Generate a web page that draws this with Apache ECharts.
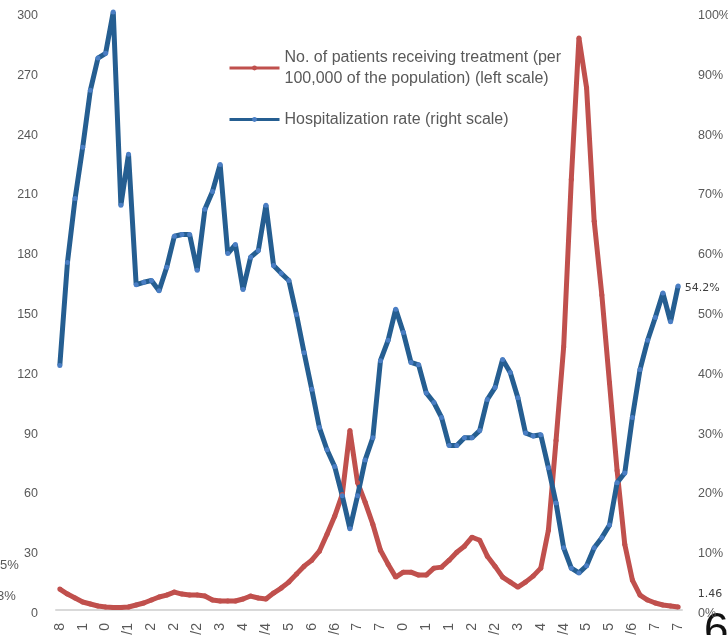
<!DOCTYPE html>
<html>
<head>
<meta charset="utf-8">
<script src="https://cdn.jsdelivr.net/npm/echarts@6/dist/echarts.min.js"></script>
<style>
  html, body { margin: 0; padding: 0; background: #fff; }
  #chart { width: 728px; height: 635px; }
</style>
</head>
<body>
<div id="chart"></div>
<script>
// visible tail of every third x label (the rest is cut off at the bottom)
const tickLabels = ['8', '1', '0', '/1', '2', '2', '/2', '3', '4', '/4', '5', '6', '/6', '7',
  '7', '0', '1', '1', '2', '/2', '3', '4', '/4', '5', '5', '/6', '7', '7']

// patients receiving treatment per 100,000 (left scale)
const patients = [10.5, 8, 6, 4, 3, 2, 1.5, 1.2, 1.2, 1.5,
  2.5, 3.5, 5, 6.5, 7.5, 9, 8, 7.5, 7.5, 7,
  5, 4.5, 4.5, 4.5, 5.5, 7, 6, 5.5, 8.5, 11,
  14, 18, 22, 25, 29.5, 38, 47, 58, 90, 64,
  54, 43, 30, 23, 16.5, 19, 19, 17.5, 17.5, 21,
  21.5, 25, 29, 32, 36.5, 35, 27, 22, 16.5, 14,
  11.5, 14, 17, 21, 40, 85, 132, 216, 287, 262,
  195, 158, 114, 70, 33, 15, 7.5, 5, 3.5, 2.5,
  2, 1.46]

// hospitalization rate, % (right scale)
const hospRate = [40.9, 58.1, 68.8, 77.4, 86.9, 92.3, 93.1, 100, 67.7, 76.2,
  54.4, 54.8, 55.1, 53.4, 57.3, 62.5, 62.8, 62.8, 56.8, 67.0,
  70.0, 74.5, 59.6, 61.1, 53.6, 59.0, 60.1, 67.7, 57.6, 56.3,
  55.1, 49.4, 43.0, 36.9, 30.5, 26.8, 24.0, 19.1, 13.6, 19.1,
  25.1, 28.8, 41.7, 45.1, 50.3, 46.4, 41.4, 41.0, 36.3, 34.7,
  32.2, 27.5, 27.5, 28.8, 28.8, 30.0, 35.2, 37.2, 41.9, 39.7,
  35.5, 29.6, 29.1, 29.3, 23.8, 17.9, 10.4, 7.0, 6.2, 7.4,
  10.4, 12.1, 14.2, 21.3, 22.9, 32.2, 40.2, 45.1, 48.9, 53.0,
  48.2, 54.2]

const weeks = patients.map((_, i) => 'w' + (i + 1))
const last = patients.length - 1

const chart = echarts.init(document.getElementById('chart'))
const gray = '#595959'
const redName = 'No. of patients receiving treatment (per\n100,000 of the population) (left scale)'
const blueName = 'Hospitalization rate (right scale)'

// y labels sit a few px below their value in the original
const yLabel = { color: gray, fontSize: 12.5, verticalAlign: 'top', lineHeight: 7 }

chart.setOption({
  backgroundColor: '#fff',
  animation: false,
  textStyle: { fontFamily: 'Liberation Sans' },
  grid: { left: 56, right: 46, top: 12, bottom: 25, containLabel: false, outerBoundsMode: 'none' },
  legend: {
    orient: 'vertical',
    left: 223,
    top: 42,
    itemWidth: 50,
    itemHeight: 6,
    itemGap: 20,
    lineStyle: { width: 3 },
    textStyle: { color: gray, fontSize: 16, lineHeight: 21 },
    data: [redName, blueName]
  },
  xAxis: {
    type: 'category',
    data: weeks,
    boundaryGap: true,
    axisLine: { lineStyle: { color: '#d9d9d9', width: 2 } },
    axisTick: { show: false },
    axisLabel: {
      interval: 0,
      rotate: 90,
      margin: 13,
      color: gray,
      fontSize: 14,
      formatter: (v, i) => (i % 3 === 0 ? tickLabels[i / 3] : '')
    },
    splitLine: { show: false }
  },
  yAxis: [
    {
      type: 'value',
      min: 0, max: 300, interval: 30,
      axisLine: { show: false },
      axisTick: { show: false },
      splitLine: { show: false },
      axisLabel: Object.assign({ margin: 18 }, yLabel)
    },
    {
      type: 'value',
      min: 0, max: 100, interval: 10,
      axisLine: { show: false },
      axisTick: { show: false },
      splitLine: { show: false },
      axisLabel: Object.assign({ margin: 16, formatter: '{value}%' }, yLabel)
    }
  ],
  series: [
    {
      name: redName,
      type: 'line',
      yAxisIndex: 0,
      data: patients,
      symbol: 'circle',
      symbolSize: 5,
      lineStyle: { color: '#c0504d', width: 5 },
      itemStyle: { color: '#c0504d' },
      label: {
        show: true,
        position: 'right',
        offset: [12, -13],
        color: '#404040',
        fontSize: 11,
        fontFamily: 'DejaVu Sans',
        formatter: p => (p.dataIndex === last ? '1.46' : '')
      }
    },
    {
      name: blueName,
      type: 'line',
      yAxisIndex: 1,
      data: hospRate,
      symbol: 'circle',
      symbolSize: 5,
      lineStyle: { color: '#255e91', width: 5 },
      itemStyle: { color: '#4a7ec4' },
      label: {
        show: true,
        position: 'right',
        offset: [-1, 2],
        color: '#404040',
        fontSize: 11,
        fontFamily: 'DejaVu Sans',
        formatter: p => (p.dataIndex === last ? '54.2%' : '')
      }
    }
  ],
  graphic: [
    { type: 'text', left: 0, top: 559, style: { text: '5%', fill: gray, font: '13px Liberation Sans' } },
    { type: 'text', left: -3, top: 590, style: { text: '3%', fill: gray, font: '13px Liberation Sans' } },
    { type: 'text', left: 704, top: 610, style: { text: '6', fill: '#111', font: '44px Liberation Sans' } }
  ]
})
</script>
</body>
</html>
